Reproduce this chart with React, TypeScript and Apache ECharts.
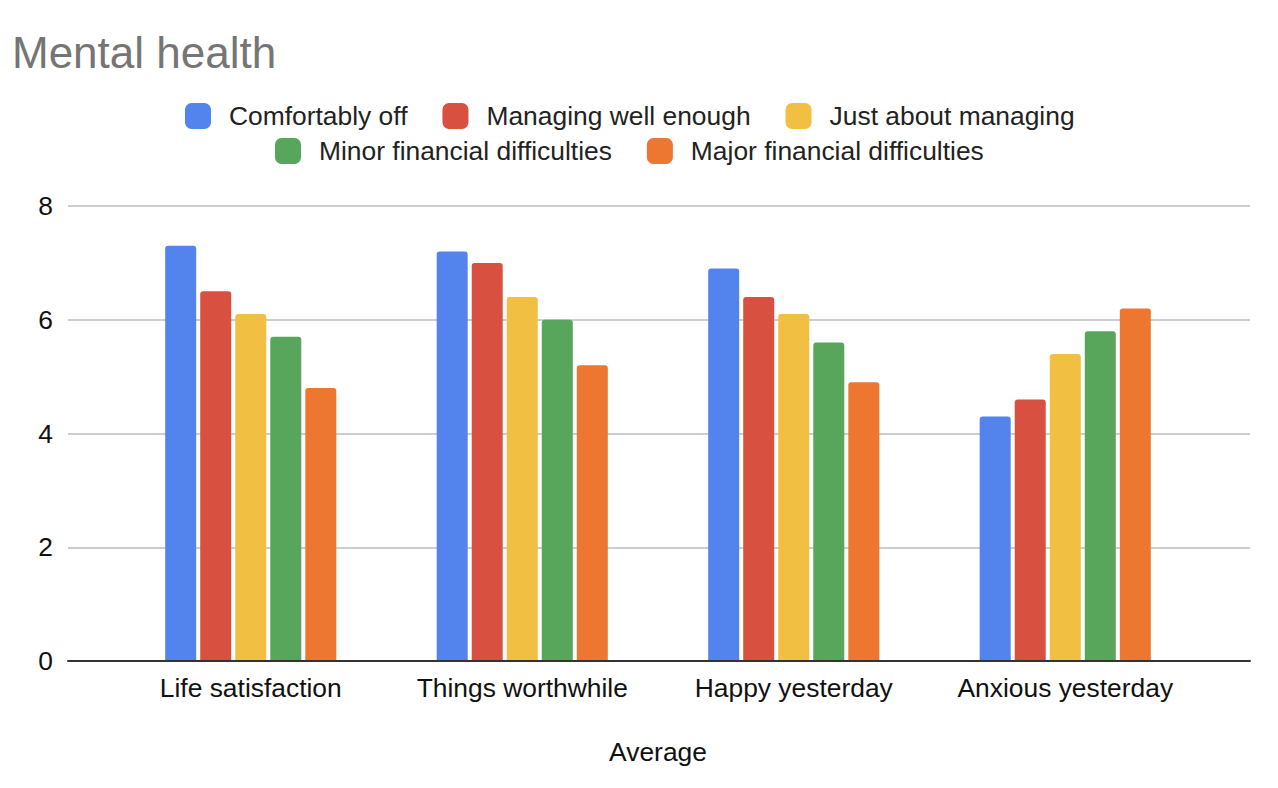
import React, { useEffect, useRef } from "react";
import * as echarts from "echarts";

const categories = ["Life satisfaction", "Things worthwhile", "Happy yesterday", "Anxious yesterday"];
const seriesNames = [
  "Comfortably off",
  "Managing well enough",
  "Just about managing",
  "Minor financial difficulties",
  "Major financial difficulties",
];
const comfortablyOff = [7.3, 7.2, 6.9, 4.3];
const managingWell = [6.5, 7.0, 6.4, 4.6];
const justAbout = [6.1, 6.4, 6.1, 5.4];
const minorDiff = [5.7, 6.0, 5.6, 5.8];
const majorDiff = [4.8, 5.2, 4.9, 6.2];
const seriesValues = [comfortablyOff, managingWell, justAbout, minorDiff, majorDiff];
const colors = ["#5383EC", "#D85040", "#F1BF42", "#58A65C", "#ED7631"];

const FONT = "'Liberation Sans', Arial, sans-serif";

export default function App() {
  const ref = useRef<HTMLDivElement>(null);
  useEffect(() => {
    if (!ref.current) return;
    const chart = echarts.init(ref.current, undefined, { renderer: "svg" });
    const legendCommon = {
      orient: "horizontal",
      itemWidth: 26,
      itemHeight: 26,
      itemGap: 35,
      padding: 0,
      icon: "roundRect",
      textStyle: { fontSize: 26.4, color: "#222", fontFamily: FONT, padding: [0, 0, 0, 13] },
    };
    chart.setOption({
      animation: false,
      color: colors,
      textStyle: { fontFamily: FONT },
      title: {
        text: "Mental health",
        left: 12,
        top: 30,
        padding: 0,
        textStyle: { fontSize: 44, fontWeight: "normal", color: "#757575", fontFamily: FONT },
      },
      legend: [
        { ...legendCommon, data: seriesNames.slice(0, 3), left: 185, top: 103 },
        { ...legendCommon, data: seriesNames.slice(3), left: 275, top: 138 },
      ],
      grid: [
        { left: 68, right: 28, top: 206, bottom: 127 },
        { left: 115, right: 77, top: 206, bottom: 127 },
      ],
      xAxis: [
        {
          type: "category",
          gridIndex: 0,
          data: categories,
          axisLabel: { show: false },
          axisTick: { show: false },
          axisLine: { show: true, lineStyle: { color: "#333", width: 2 } },
          z: 10,
        },
        {
          type: "category",
          gridIndex: 1,
          data: categories,
          axisTick: { show: false },
          axisLine: { show: false },
          axisLabel: { fontSize: 26.4, color: "#111", margin: 14, fontFamily: FONT, interval: 0 },
          name: "Average",
          nameLocation: "middle",
          nameGap: 78,
          nameTextStyle: { fontSize: 26.4, color: "#111", fontFamily: FONT },
        },
      ],
      yAxis: [
        {
          type: "value",
          gridIndex: 0,
          min: 0,
          max: 8,
          interval: 2,
          axisLine: { show: false },
          axisTick: { show: false },
          axisLabel: { fontSize: 26.4, color: "#111", margin: 15, fontFamily: FONT },
          splitLine: { lineStyle: { color: "#cccccc", width: 2 } },
        },
        {
          type: "value",
          gridIndex: 1,
          min: 0,
          max: 8,
          interval: 2,
          show: false,
          splitLine: { show: false },
        },
      ],
      series: seriesNames.map((name, i) => ({
        name,
        type: "bar",
        xAxisIndex: 1,
        yAxisIndex: 1,
        data: seriesValues[i],
        barWidth: 31,
        barGap: "13%",
        itemStyle: { color: colors[i], borderRadius: [3, 3, 0, 0] },
      })),
    });
    return () => chart.dispose();
  }, []);
  return (
    <div
      ref={ref}
      style={{ position: "fixed", left: 0, top: 0, width: 1278, height: 788, background: "#fff" }}
    />
  );
}
